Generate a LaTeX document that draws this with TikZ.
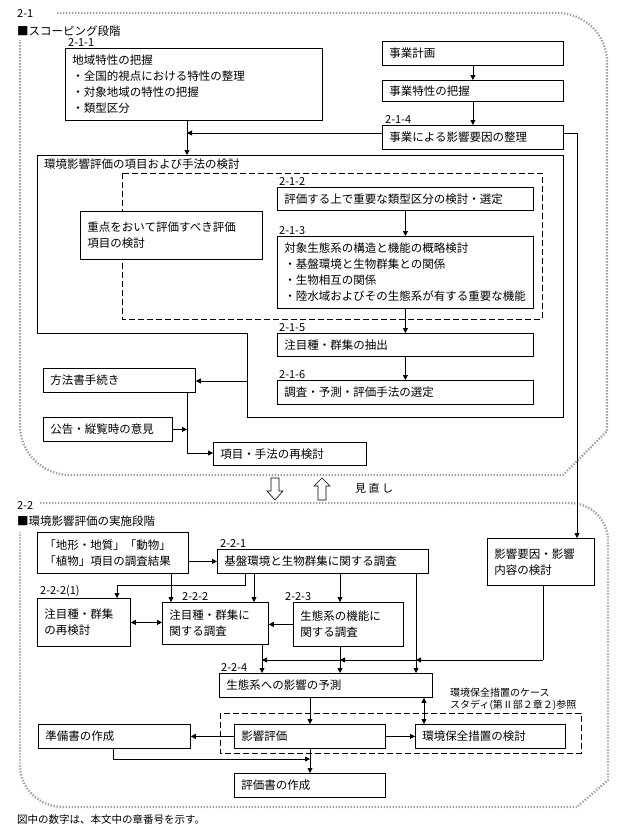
\documentclass[tikz,border=0pt]{standalone}
\usepackage{fontspec}
\newfontfamily\jp{Noto Sans CJK JP}
\newcommand\bxfont{\fontsize{11.5pt}{16pt}\selectfont\jp}
\newcommand\nbfont{\fontsize{11pt}{11pt}\selectfont\jp}
\usetikzlibrary{arrows.meta,positioning}
\tikzset{
  box/.style={draw, line width=0.8pt, fill=white, anchor=north west, inner xsep=7pt, inner ysep=0pt, align=left, font=\bxfont},
  num/.style={inner sep=0pt, font=\nbfont},
  zone/.style={draw=gray!75, line width=2.4pt, dash pattern=on 1.3pt off 1.7pt},
  wire/.style={line width=0.8pt},
  link/.style={wire, -{Triangle[length=5pt,width=5pt]}},
  dlink/.style={wire, {Triangle[length=5pt,width=5pt]}-{Triangle[length=5pt,width=5pt]}},
  hollow/.style={draw, line width=0.6pt, fill=white},
}

\begin{document}
\begin{tikzpicture}[x=1pt, y=-1pt]
\useasboundingbox (0,0) rectangle (635,838);
%stage frames
\draw[zone] (57,13) -- (557,13) to[out=0,in=90] (607,62) -- (607,431) -- (563,475) -- (70,475) to[out=180,in=-90] (20,425) -- (20,40);
\draw[zone] (40,503) -- (570,503) to[out=0,in=90] (608,541) -- (608,780) -- (577,807) -- (63,807) to[out=180,in=-90] (20,765) -- (20,532);
\node[num, anchor=west] (t21) at (17,14) {2-1};
\node[num, anchor=west, font=\bxfont] (s21) at (17,31) {■スコーピング段階};
\node[num, anchor=west] (t22) at (17,505) {2-2};
\node[num, anchor=west, font=\bxfont] (s22) at (17,521) {■環境影響評価の実施段階};

%scoping: outline and dashed group
\draw[wire] (37,155) -- (563,155) -- (563,417) -- (247,417) -- (247,333) -- (37,333) -- cycle;
\node[num, anchor=west, font=\bxfont] (bighead) at (44,164) {環境影響評価の項目および手法の検討};
\draw[wire, dash pattern=on 6pt off 3pt] (122,173) rectangle (542,319);

%scoping boxes
\node[box, text width=243pt, minimum height=72pt] (b211) at (65,48) {地域特性の把握\\・全国的視点における特性の整理\\・対象地域の特性の把握\\・類型区分};
\node[box, text width=167pt, minimum height=24pt] (plan) at (382,41) {事業計画};
\node[box, text width=167pt, minimum height=21pt] (feat) at (382,80) {事業特性の把握};
\node[box, text width=167pt, minimum height=24pt] (b214) at (382,125) {事業による影響要因の整理};
\node[box, text width=168pt, minimum height=48pt] (pri) at (80,211) {重点をおいて評価すべき評価\\項目の検討};
\node[box, text width=242pt, minimum height=23pt] (b212) at (277,187) {評価する上で重要な類型区分の検討・選定};
\node[box, text width=242pt, minimum height=72pt] (b213) at (277,236) {対象生態系の構造と機能の概略検討\\・基盤環境と生物群集との関係\\・生物相互の関係\\・陸水域およびその生態系が有する重要な機能};
\node[box, text width=242pt, minimum height=23pt] (b215) at (277,333) {注目種・群集の抽出};
\node[box, text width=242pt, minimum height=24pt] (b216) at (277,380) {調査・予測・評価手法の選定};
\node[box, text width=138pt, minimum height=24pt] (meth) at (43,368) {方法書手続き};
\node[box, text width=115pt, minimum height=24pt] (pub) at (43,417) {公告・縦覧時の意見};
\node[box, text width=139pt, minimum height=23pt] (rev) at (213,442) {項目・手法の再検討};

\node[num, above right=1pt and 3pt of b211.north west] (n211) {2-1-1};
\node[num, above right=1pt and 3pt of b214.north west] (n214) {2-1-4};
\node[num, above right=1pt and 2pt of b212.north west] (n212) {2-1-2};
\node[num, above right=1pt and 2pt of b213.north west] (n213) {2-1-3};
\node[num, above right=1pt and 2pt of b215.north west] (n215) {2-1-5};
\node[num, above right=1pt and 2pt of b216.north west] (n216) {2-1-6};

%scoping links
\coordinate (dn1) at (187,155); \coordinate (in1) at (187,133); \coordinate (rt1) at (577,133);
\coordinate (wl) at (247,381); \coordinate (mr) at (187,453);
\draw[link] (b211.south -| dn1) -- (dn1);
\draw[link] (b214.west |- in1) -- (in1);
\draw[link] (plan) -- (feat);
\draw[link] (feat) -- (b214);
\draw[link] (b212) -- (b213);
\draw[link] (b213) -- (b215);
\draw[link] (b215) -- (b216);
\draw[link] (wl) -- (wl -| meth.east);
\draw[link] (meth.south -| mr) -- (mr) -- (rev.west |- mr);
\draw[link] (pub.east) -- (pub.east -| mr);

%review arrows
\draw[hollow] (271,478) -- (279,478) -- (279,491) -- (283,491) -- (275,500) -- (267,491) -- (271,491) -- cycle;
\draw[hollow] (322,478) -- (330,486) -- (326,486) -- (326,500) -- (318,500) -- (318,486) -- (314,486) -- cycle;
\node[num, anchor=west] (redo) at (355,488) {見 直 し};

%assessment: dashed group
\draw[wire, dash pattern=on 6pt off 3pt] (220,713) rectangle (581,753);
\node[num, anchor=south west, align=left, font=\fontsize{10pt}{12pt}\selectfont\jp] (note) at (450,711) {環境保全措置のケース\\スタディ(第Ⅱ部２章２)参照};

%assessment boxes
\node[box, text width=137pt, minimum height=41pt] (geo) at (37,532) {「地形・地質」「動物」\\「植物」項目の調査結果};
\node[box, text width=197pt, minimum height=24pt] (b221) at (217,549) {基盤環境と生物群集に関する調査};
\node[box, text width=79pt, minimum height=48pt] (b2221) at (37,598) {注目種・群集\\の再検討};
\node[box, text width=92pt, minimum height=42pt] (b222) at (162,602) {注目種・群集に\\関する調査};
\node[box, text width=96pt, minimum height=44pt] (b223) at (293,602) {生態系の機能に\\関する調査};
\node[box, text width=93pt, minimum height=47pt] (imp) at (487,538) {影響要因・影響\\内容の検討};
\node[box, text width=199pt, minimum height=24pt] (b224) at (219,673) {生態系への影響の予測};
\node[box, text width=137pt, minimum height=24pt] (eval) at (234,724) {影響評価};
\node[box, text width=136pt, minimum height=24pt] (cons) at (415,724) {環境保全措置の検討};
\node[box, text width=138pt, minimum height=24pt] (prep) at (38,724) {準備書の作成};
\node[box, text width=137pt, minimum height=24pt] (final) at (234,773) {評価書の作成};

\node[num, above right=1pt and 3pt of b221.north west] (n221) {2-2-1};
\node[num, above right=1pt and 3pt of b2221.north west] (n2221) {2-2-2(1)};
\node[num, above right=1pt and 20pt of b222.north west] (n222) {2-2-2};
\node[num, above right=1pt and -8pt of b223.north west] (n223) {2-2-3};
\node[num, above right=1pt and 2pt of b224.north west] (n224) {2-2-4};

%assessment links
\coordinate (xa) at (171,0); \coordinate (xb) at (245,585); \coordinate (xc) at (117,0);
\coordinate (xd) at (254,0); \coordinate (xe) at (340,0); \coordinate (xf) at (416,0);
\coordinate (xg) at (262,0); \coordinate (xh) at (543,660); \coordinate (xi) at (310,0);
\coordinate (xj) at (424,0); \coordinate (xk) at (113,759);
\draw[link] (rt1 -| b214.east) -- (rt1) -- (rt1 |- imp.north);
\draw[link] (geo.east |- b221.west) -- (b221.west);
\draw[link] (geo.south -| xa) -- (b222.north -| xa);
\draw[link] (b221.south -| xb) -- (xb) -- (xb -| xc) -- (b2221.north -| xc);
\draw[link] (b221.south -| xd) -- (b222.north -| xd);
\draw[link] (b221.south -| xe) -- (b223.north -| xe);
\draw[link] (b221.south -| xf) -- (b224.north -| xf);
\draw[dlink] (b2221.east) -- (b2221.east -| b222.west);
\draw[link] (b223.west) -- (b223.west -| b222.east);
\draw[link] (b222.south -| xg) -- (b224.north -| xg);
\draw[link] (b223.south -| xe) -- (b224.north -| xe);
\draw[wire] (imp.south -| xh) -- (xh);
\draw[link] (xh) -- (xh -| xf);
\draw[link] (xh -| xf) -- (xh -| xe);
\draw[link] (xh -| xe) -- (xh -| xg);
\draw[link] (b224.south -| xi) -- (eval.north -| xi);
\draw[dlink] (b224.south -| xj) -- (cons.north -| xj);
\draw[link] (eval) -- (cons);
\draw[link] (eval) -- (prep);
\draw[link] (prep.south -| xk) -- (xk) -- (xk -| xi);
\draw[link] (eval.south -| xi) -- (final.north -| xi);

\node[num, anchor=west, font=\fontsize{10.5pt}{11pt}\selectfont\jp] (foot) at (17,820) {図中の数字は、本文中の章番号を示す。};
\end{tikzpicture}
\end{document}
